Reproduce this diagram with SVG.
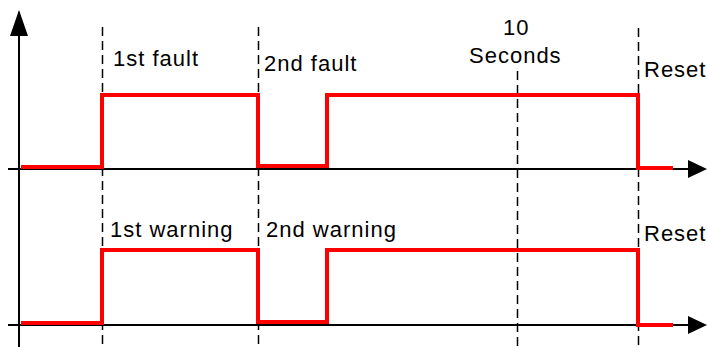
<svg xmlns="http://www.w3.org/2000/svg" width="707" height="347" viewBox="0 0 707 347">
<style>
.axis{stroke:#000;stroke-width:2;fill:none}
.dash{stroke:#000;stroke-width:1.5;stroke-dasharray:9,5;fill:none}
.sig{stroke:#ff0000;stroke-width:4;fill:none;stroke-linejoin:miter}
text{font-family:"Liberation Sans",Arial,sans-serif;font-size:22px;letter-spacing:1px;fill:#000}
</style>
<g id="axes">
<line class="axis" x1="19" y1="347" x2="19" y2="12"/>
<path d="M10,36 L19,10 L28,36 Z" fill="#000"/>
<line class="axis" x1="8" y1="169" x2="690" y2="169"/>
<path d="M688,160 L707,169 L688,178 Z" fill="#000"/>
<line class="axis" x1="8" y1="325" x2="690" y2="325"/>
<path d="M688,316 L707,325 L688,334 Z" fill="#000"/>
</g>
<g id="connectors">
<line class="dash" x1="102.5" y1="27" x2="102.5" y2="347"/>
<line class="dash" x1="258.5" y1="27" x2="258.5" y2="347"/>
<line class="dash" x1="517.5" y1="71" x2="517.5" y2="347"/>
<line class="dash" x1="638.5" y1="28" x2="638.5" y2="347"/>
</g>
<g id="fault-signal">
<polyline class="sig" points="21,167 102,167 102,95 258,95 258,166 327,166 327,95 638,95 638,168 673,168"/>
</g>
<g id="warning-signal">
<polyline class="sig" points="21,323 102,323 102,250 258,250 258,322 327,322 327,250 638,250 638,325 673,325"/>
</g>
<g id="labels">
<text x="113" y="66">1st fault</text>
<text x="264" y="71">2nd fault</text>
<text x="503" y="35">10</text>
<text x="469" y="63">Seconds</text>
<text x="644" y="77">Reset</text>
<text x="110" y="237">1st warning</text>
<text x="266" y="237">2nd warning</text>
<text x="644" y="241">Reset</text>
</g>
</svg>
